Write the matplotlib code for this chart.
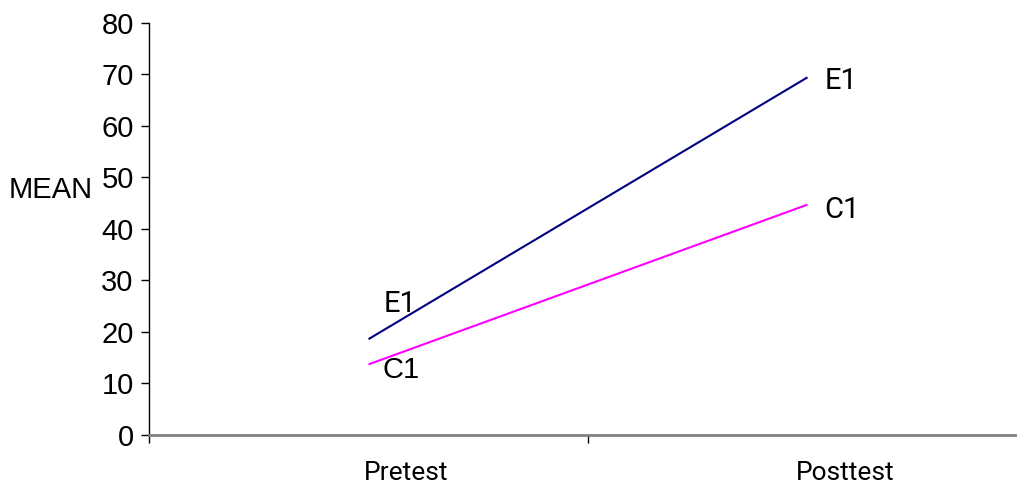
import numpy as np
import matplotlib
matplotlib.use("Agg")
import matplotlib.pyplot as plt
import matplotlib.transforms as mtransforms

# data
phases = ['Pretest', 'Posttest']
e1_mean = [18.6, 69.4]
c1_mean = [13.7, 44.7]
y_ticks = [0, 10, 20, 30, 40, 50, 60, 70, 80]

W, H = 1017, 487
fig = plt.figure(figsize=(W / 100, H / 100), dpi=100)
# axes box in pixels: y axis at x=149, zero at y=435, 80 at y=22.7, right edge past the figure
left, right, y0, y80 = 149, 1027, 435, 22.7
ax = fig.add_axes([left / W, (H - y0) / H, (right - left) / W, (y0 - y80) / H])

x = np.arange(len(phases))
ax.plot(x, e1_mean, color='#000080', lw=1.5, solid_capstyle='butt')
ax.plot(x, c1_mean, color='#FF00FF', lw=1.5, solid_capstyle='butt')

ax.set_xlim(-0.5, len(phases) - 0.5)
ax.set_ylim(0, 80)

# spines
for s in ['top', 'right']:
    ax.spines[s].set_visible(False)
ax.spines['left'].set_color('black')
ax.spines['left'].set_linewidth(1.0)
ax.spines['bottom'].set_color('#808080')
ax.spines['bottom'].set_linewidth(2.0)

# y ticks
ax.set_yticks(y_ticks)
ax.set_yticklabels([str(v) for v in y_ticks], fontsize=21, family='Liberation Sans')
ax.tick_params(axis='y', direction='out', length=6, width=1, color='black', pad=5)

# x: tick marks at category boundaries, labels at categories (shifted right like the original)
ax.set_xticks(np.arange(-0.5, len(phases), 1.0))
ax.set_xticklabels([])
ax.tick_params(axis='x', which='major', direction='out', length=6, width=1, color='black')
ax.set_xticks(x, minor=True)
ax.set_xticklabels(phases, minor=True, fontsize=19, family='Roboto')
ax.tick_params(axis='x', which='minor', length=0, pad=19)
shift = mtransforms.ScaledTranslation(0.38, 0, fig.dpi_scale_trans)
for lab in ax.get_xticklabels(minor=True):
    lab.set_transform(lab.get_transform() + shift)

ax.set_ylabel('MEAN', rotation=0, fontsize=21, family='Liberation Sans', ha='center', va='center')
ax.yaxis.set_label_coords(-0.112, 0.594)

# series labels next to the line ends
ax.annotate('E1', (x[0], e1_mean[0]), xytext=(15, 27), textcoords='offset pixels',
            fontsize=21, family='Roboto', va='baseline', ha='left')
ax.annotate('C1', (x[0], c1_mean[0]), xytext=(14, -14), textcoords='offset pixels',
            fontsize=21, family='Liberation Sans', va='baseline', ha='left')
ax.annotate('E1', (x[1], e1_mean[1]), xytext=(17, -12), textcoords='offset pixels',
            fontsize=21, family='Roboto', va='baseline', ha='left')
ax.annotate('C1', (x[1], c1_mean[1]), xytext=(17, -13), textcoords='offset pixels',
            fontsize=21, family='Roboto', va='baseline', ha='left')

fig.savefig('out.png', dpi=100)
